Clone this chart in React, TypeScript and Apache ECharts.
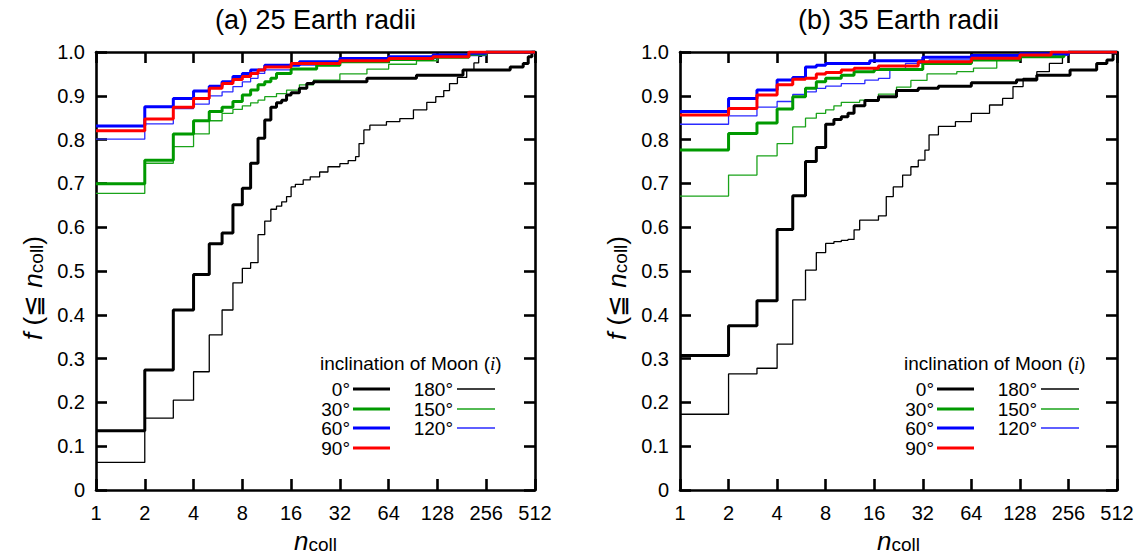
import React, { useEffect, useRef } from "react";
import * as echarts from "echarts";

// ---------------- data (n_coll, cumulative fraction) ----------------
// Panel (a): 25 Earth radii
const a0 = [[1,0.135],[2,0.274],[3,0.411],[4,0.492],[5,0.562],[6,0.587],[7,0.651],[8,0.689],[9,0.746],[10,0.803],[11,0.845],[12,0.874],[13,0.884],[14,0.890],[15,0.902],[16,0.907],[18,0.917],[20,0.928],[22,0.932],[47,0.940],[95,0.947],[184,0.959],[360,0.966],[433,0.974],[465,0.989],[490,1],[512,1]];
const a180 = [[1,0.063],[2,0.164],[3,0.205],[4,0.270],[5,0.354],[6,0.411],[7,0.473],[8,0.506],[9,0.519],[10,0.583],[11,0.614],[12,0.641],[13,0.648],[14,0.658],[15,0.670],[16,0.692],[17,0.698],[19,0.708],[21,0.715],[24,0.726],[27,0.738],[32,0.745],[36,0.752],[40,0.761],[42,0.791],[45,0.822],[49,0.833],[62,0.841],[75,0.848],[91,0.868],[110,0.885],[125,0.898],[140,0.912],[152,0.928],[170,0.942],[194,0.959],[215,0.975],[230,0.990],[240,1],[512,1]];
const a30 = [[1,0.699],[2,0.753],[3,0.813],[4,0.843],[5,0.864],[6,0.874],[7,0.887],[8,0.902],[9,0.913],[10,0.925],[11,0.932],[12,0.940],[13,0.951],[16,0.961],[23,0.970],[32,0.978],[64,0.983],[120,0.988],[200,0.995],[256,1],[512,1]];
const a150 = [[1,0.677],[2,0.746],[3,0.784],[4,0.813],[5,0.843],[6,0.860],[7,0.869],[8,0.877],[9,0.884],[10,0.890],[11,0.898],[13,0.905],[15,0.913],[18,0.925],[22,0.936],[32,0.950],[47,0.961],[64,0.972],[95,0.980],[128,0.988],[180,0.994],[256,1],[512,1]];
const a60 = [[1,0.831],[2,0.875],[3,0.894],[4,0.911],[5,0.922],[6,0.932],[7,0.944],[8,0.951],[9,0.959],[11,0.970],[18,0.978],[32,0.985],[64,0.989],[120,0.993],[200,0.997],[256,1],[512,1]];
const a90 = [[1,0.820],[2,0.847],[3,0.874],[4,0.894],[5,0.917],[6,0.928],[7,0.937],[8,0.944],[9,0.951],[10,0.959],[11,0.966],[16,0.974],[32,0.980],[64,0.985],[120,0.989],[200,1],[512,1]];
const a120 = [[1,0.801],[2,0.836],[3,0.871],[4,0.881],[5,0.900],[6,0.909],[7,0.921],[8,0.932],[9,0.940],[10,0.951],[11,0.959],[16,0.970],[32,0.980],[64,0.985],[128,0.992],[256,1],[512,1]];

// Panel (b): 35 Earth radii
const b0 = [[1,0.307],[2,0.375],[3,0.432],[4,0.595],[5,0.672],[6,0.750],[7,0.782],[8,0.835],[9,0.846],[10,0.852],[11,0.860],[12,0.877],[14,0.889],[17,0.898],[22,0.912],[30,0.917],[40,0.922],[64,0.930],[122,0.936],[163,0.947],[262,0.959],[383,0.974],[443,0.982],[484,0.997],[512,1]];
const b180 = [[1,0.173],[2,0.265],[3,0.278],[4,0.333],[5,0.434],[6,0.502],[7,0.542],[8,0.563],[9,0.567],[10,0.570],[11,0.572],[12,0.594],[13,0.616],[17,0.626],[19,0.670],[21,0.692],[24,0.719],[27,0.738],[30,0.753],[33,0.776],[35,0.811],[40,0.830],[51,0.841],[64,0.860],[83,0.879],[100,0.894],[116,0.921],[134,0.940],[163,0.955],[195,0.974],[235,0.993],[250,1],[512,1]];
const b30 = [[1,0.776],[2,0.814],[3,0.838],[4,0.870],[5,0.898],[6,0.917],[7,0.932],[8,0.940],[10,0.947],[12,0.955],[16,0.960],[32,0.974],[64,0.982],[128,0.989],[240,0.997],[256,1],[512,1]];
const b150 = [[1,0.671],[2,0.719],[3,0.763],[4,0.791],[5,0.829],[6,0.849],[7,0.860],[8,0.868],[9,0.877],[10,0.885],[13,0.890],[17,0.904],[22,0.920],[27,0.935],[34,0.950],[52,0.955],[66,0.963],[92,0.982],[128,0.989],[213,0.995],[256,1],[512,1]];
const b60 = [[1,0.864],[2,0.894],[3,0.913],[4,0.936],[5,0.942],[6,0.966],[7,0.970],[8,0.974],[15,0.980],[32,0.988],[64,0.992],[128,0.996],[256,1],[512,1]];
const b90 = [[1,0.856],[2,0.871],[3,0.902],[4,0.925],[5,0.938],[6,0.940],[7,0.950],[8,0.953],[10,0.959],[12,0.963],[17,0.968],[30,0.978],[64,0.986],[128,0.993],[200,1],[512,1]];
const b120 = [[1,0.835],[2,0.854],[3,0.874],[4,0.887],[5,0.903],[6,0.909],[7,0.917],[8,0.922],[10,0.928],[14,0.936],[17,0.940],[20,0.959],[25,0.974],[35,0.982],[66,0.988],[128,0.993],[256,1],[512,1]];

const INCLINATIONS = ["0°", "30°", "60°", "90°", "180°", "150°", "120°"];
const PANEL_A = [a0, a30, a60, a90, a180, a150, a120];
const PANEL_B = [b0, b30, b60, b90, b180, b150, b120];
const PANEL_TITLES = ["(a) 25 Earth radii", "(b) 35 Earth radii"];
const X_MIN = 1;
const X_MAX = 512;

// ---------------- styles ----------------
const COLORS = ["#000000", "#009900", "#0000ff", "#ff0000", "#000000", "#1aa31a", "#2a2aff"];
const WIDTHS = [3, 3, 3, 3, 1.3, 1.3, 1.3];
const DRAW_ORDER = [4, 5, 6, 0, 1, 2, 3];
const FONT = "'Liberation Sans', Arial, Helvetica, sans-serif";
const GRIDS = [
  { left: 96, top: 52, width: 439, height: 438 },
  { left: 680, top: 52, width: 437, height: 438 },
];

const axisLine = { show: true, onZero: false, lineStyle: { color: "#000", width: 2.6 } };
const axisTick = { show: true, inside: true, length: 11, lineStyle: { color: "#000", width: 2.6 } };

function buildOption() {
  const xAxis: any[] = [];
  const yAxis: any[] = [];
  const series: any[] = [];
  const graphic: any[] = [];
  const panels = [PANEL_A, PANEL_B];

  panels.forEach((panel, p) => {
    const g = GRIDS[p];
    const xBase = {
      type: "log", logBase: 2, min: X_MIN, max: X_MAX, splitNumber: 9, gridIndex: p,
      axisLine, axisTick, splitLine: { show: false }, minorTick: { show: false },
    };
    xAxis.push({
      ...xBase, position: "bottom",
      axisLabel: { show: true, fontSize: 20, color: "#000", fontFamily: FONT, margin: 13,
        formatter: (v: number) => String(Math.round(v)) },
      name: "{n|n}{s|coll}", nameLocation: "middle", nameGap: 35,
      nameTextStyle: {
        rich: {
          n: { fontSize: 26, fontStyle: "italic", fontFamily: FONT, color: "#000", lineHeight: 26, verticalAlign: "middle" },
          s: { fontSize: 19, fontFamily: FONT, color: "#000", lineHeight: 16, verticalAlign: "bottom" },
        },
      },
    });
    xAxis.push({ ...xBase, position: "top", axisLabel: { show: false } });

    const yBase = {
      type: "value", min: 0, max: 1, interval: 0.1, gridIndex: p,
      axisLine, axisTick, splitLine: { show: false },
    };
    yAxis.push({
      ...yBase, position: "left",
      axisLabel: { show: true, fontSize: 20, color: "#000", fontFamily: FONT, margin: 11,
        formatter: (v: number) => (v === 0 ? "0" : v.toFixed(1)) },
      name: "{i|f} (≦ {i|n}{s|coll})", nameLocation: "middle", nameGap: 50, nameRotate: 90,
      nameTextStyle: {
        fontSize: 26, fontFamily: FONT, color: "#000", padding: [0, 34, 0, 0],
        rich: {
          i: { fontSize: 26, fontStyle: "italic", fontFamily: FONT, color: "#000", lineHeight: 26, verticalAlign: "middle" },
          s: { fontSize: 19, fontFamily: FONT, color: "#000", lineHeight: 16, verticalAlign: "bottom" },
        },
      },
    });
    yAxis.push({ ...yBase, position: "right", axisLabel: { show: false } });

    DRAW_ORDER.forEach((k) => {
      series.push({
        type: "line", name: INCLINATIONS[k], xAxisIndex: p * 2, yAxisIndex: p * 2,
        data: panel[k], step: "end", symbol: "none", showSymbol: false, silent: true,
        lineStyle: { color: COLORS[k], width: WIDTHS[k] }, itemStyle: { color: COLORS[k] },
      });
    });

    // panel title
    const cx = g.left + g.width / 2;
    graphic.push({
      type: "text", x: cx, y: 20,
      style: { text: PANEL_TITLES[p], font: `27px ${FONT}`, fill: "#000",
        align: "center", verticalAlign: "middle", textAlign: "center", textVerticalAlign: "middle" },
    });

    // legend block
    const ox = g.left - 96;
    graphic.push({
      type: "text", x: 320 + ox, y: 363,
      style: {
        text: "inclination of Moon ({i|i})", font: `19px ${FONT}`, fill: "#000",
        align: "left", verticalAlign: "middle", textAlign: "left", textVerticalAlign: "middle",
        rich: { i: { fontFamily: "'Liberation Serif', 'Times New Roman', serif", fontStyle: "italic", fontSize: 19, fill: "#000" } },
      },
    });
    const rows = [389, 409, 428, 448];
    const cols = [
      { labelRight: 350, x1: 353, x2: 390, items: [0, 1, 2, 3] },
      { labelRight: 453, x1: 457, x2: 495, items: [4, 5, 6] },
    ];
    cols.forEach((c) => {
      c.items.forEach((k, r) => {
        graphic.push({
          type: "text", x: c.labelRight + ox, y: rows[r],
          style: { text: INCLINATIONS[k], font: `19px ${FONT}`, fill: "#000",
            align: "right", verticalAlign: "middle", textAlign: "right", textVerticalAlign: "middle" },
        });
        graphic.push({
          type: "line",
          shape: { x1: c.x1 + ox, y1: rows[r], x2: c.x2 + ox, y2: rows[r] },
          style: { stroke: COLORS[k], lineWidth: WIDTHS[k] },
        });
      });
    });
  });

  return {
    animation: false,
    backgroundColor: "#ffffff",
    textStyle: { fontFamily: FONT, color: "#000" },
    grid: GRIDS.map((g) => ({ ...g, containLabel: false, outerBoundsMode: "none" })),
    xAxis, yAxis, series, graphic,
  };
}

export default function App() {
  const ref = useRef<HTMLDivElement | null>(null);
  useEffect(() => {
    if (!ref.current) return;
    const chart = echarts.init(ref.current, undefined, { renderer: "svg" });
    chart.setOption(buildOption() as any);
    return () => chart.dispose();
  }, []);
  return (
    <div
      ref={ref}
      style={{ position: "fixed", left: 0, top: 0, width: 1139, height: 556, background: "#fff" }}
    />
  );
}
